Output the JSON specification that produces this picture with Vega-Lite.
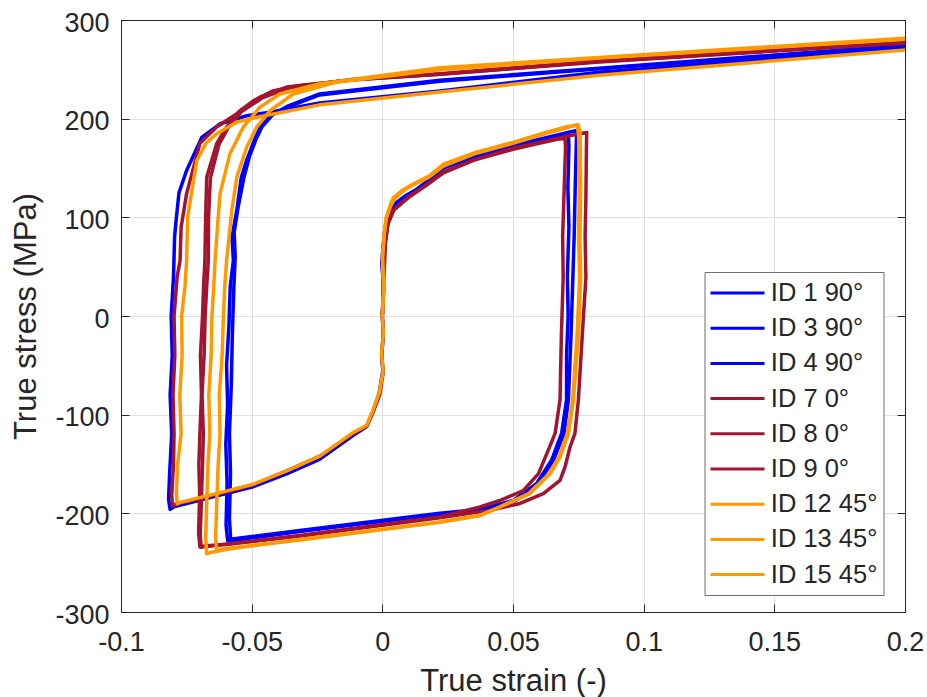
{
"$schema":"https://vega.github.io/schema/vega-lite/v6.json",
"width":784,"height":592,"autosize":"none",
"padding":{"left":121,"top":20,"right":22,"bottom":85},
"background":"white",
"config":{"view":{"stroke":null},"font":"Liberation Sans",
"axis":{"domainColor":"#262626","domainWidth":1,"tickColor":"#262626","tickWidth":1,"tickSize":-8,"labelColor":"#262626","labelFont":"Liberation Sans","labelFontSize":27,"titleFont":"Liberation Sans","titleFontSize":31,"titleColor":"#262626","titleFontWeight":"normal","gridColor":"#DFDFDF","gridWidth":1,"labelFlush":false,"labelOverlap":false}},
"datasets":{"d":[
{"s":"ID 1 90°","x":0,"y":0},{"s":"ID 1 90°","x":0.0004,"y":-20},{"s":"ID 1 90°","x":-0.0003,"y":-40},{"s":"ID 1 90°","x":0.0002,"y":-55},{"s":"ID 1 90°","x":-0.0012,"y":-78},{"s":"ID 1 90°","x":-0.0035,"y":-96},{"s":"ID 1 90°","x":-0.006,"y":-112},{"s":"ID 1 90°","x":-0.0111,"y":-121},{"s":"ID 1 90°","x":-0.0239,"y":-145},{"s":"ID 1 90°","x":-0.0366,"y":-160},{"s":"ID 1 90°","x":-0.0494,"y":-173},{"s":"ID 1 90°","x":-0.0621,"y":-181.5},{"s":"ID 1 90°","x":-0.0749,"y":-190},{"s":"ID 1 90°","x":-0.0795,"y":-193},{"s":"ID 1 90°","x":-0.0812,"y":-196},{"s":"ID 1 90°","x":-0.0818,"y":-186},{"s":"ID 1 90°","x":-0.0814,"y":-160},{"s":"ID 1 90°","x":-0.0806,"y":-120},{"s":"ID 1 90°","x":-0.0812,"y":-80},{"s":"ID 1 90°","x":-0.0804,"y":-40},{"s":"ID 1 90°","x":-0.0808,"y":0},{"s":"ID 1 90°","x":-0.0799,"y":40},{"s":"ID 1 90°","x":-0.0795,"y":80},{"s":"ID 1 90°","x":-0.0788,"y":100},{"s":"ID 1 90°","x":-0.0778,"y":125},{"s":"ID 1 90°","x":-0.0749,"y":147.5},{"s":"ID 1 90°","x":-0.0691,"y":181},{"s":"ID 1 90°","x":-0.0621,"y":194.8},{"s":"ID 1 90°","x":-0.0519,"y":203},{"s":"ID 1 90°","x":-0.043,"y":206.6},{"s":"ID 1 90°","x":-0.024,"y":216},{"s":"ID 1 90°","x":0.022,"y":228},{"s":"ID 1 90°","x":0.083,"y":247},{"s":"ID 1 90°","x":0.2,"y":271.5},

{"s":"ID 3 90°","x":0,"y":0},{"s":"ID 3 90°","x":0.0004,"y":30},{"s":"ID 3 90°","x":-0.0002,"y":55},{"s":"ID 3 90°","x":0.0006,"y":80},{"s":"ID 3 90°","x":0.0015,"y":96},{"s":"ID 3 90°","x":0.0042,"y":112},{"s":"ID 3 90°","x":0.008,"y":120},{"s":"ID 3 90°","x":0.013,"y":128},{"s":"ID 3 90°","x":0.0234,"y":150},{"s":"ID 3 90°","x":0.035,"y":161},{"s":"ID 3 90°","x":0.05,"y":172},{"s":"ID 3 90°","x":0.062,"y":179},{"s":"ID 3 90°","x":0.0695,"y":182},{"s":"ID 3 90°","x":0.0712,"y":183},{"s":"ID 3 90°","x":0.0714,"y":172},{"s":"ID 3 90°","x":0.071,"y":130},{"s":"ID 3 90°","x":0.0714,"y":90},{"s":"ID 3 90°","x":0.0708,"y":40},{"s":"ID 3 90°","x":0.0711,"y":0},{"s":"ID 3 90°","x":0.0705,"y":-40},{"s":"ID 3 90°","x":0.0705,"y":-85},{"s":"ID 3 90°","x":0.0686,"y":-119},{"s":"ID 3 90°","x":0.0648,"y":-146},{"s":"ID 3 90°","x":0.059,"y":-170},{"s":"ID 3 90°","x":0.0501,"y":-187},{"s":"ID 3 90°","x":0.0374,"y":-196},{"s":"ID 3 90°","x":0.022,"y":-200},{"s":"ID 3 90°","x":-0.03,"y":-217},{"s":"ID 3 90°","x":-0.0575,"y":-226},{"s":"ID 3 90°","x":-0.0592,"y":-227.5},{"s":"ID 3 90°","x":-0.0598,"y":-212},{"s":"ID 3 90°","x":-0.0594,"y":-170},{"s":"ID 3 90°","x":-0.0599,"y":-130},{"s":"ID 3 90°","x":-0.0592,"y":-90},{"s":"ID 3 90°","x":-0.0596,"y":-50},{"s":"ID 3 90°","x":-0.0587,"y":-10},{"s":"ID 3 90°","x":-0.0582,"y":30},{"s":"ID 3 90°","x":-0.057,"y":56},{"s":"ID 3 90°","x":-0.0575,"y":80},{"s":"ID 3 90°","x":-0.0557,"y":107},{"s":"ID 3 90°","x":-0.054,"y":140},{"s":"ID 3 90°","x":-0.0519,"y":158},{"s":"ID 3 90°","x":-0.049,"y":178},{"s":"ID 3 90°","x":-0.0468,"y":191},{"s":"ID 3 90°","x":-0.043,"y":203},{"s":"ID 3 90°","x":-0.037,"y":211},{"s":"ID 3 90°","x":-0.024,"y":224},{"s":"ID 3 90°","x":0.022,"y":238},{"s":"ID 3 90°","x":0.083,"y":250.5},{"s":"ID 3 90°","x":0.2,"y":273.5},

{"s":"ID 4 90°","x":0,"y":0},{"s":"ID 4 90°","x":0.0005,"y":28},{"s":"ID 4 90°","x":0,"y":52},{"s":"ID 4 90°","x":0.0008,"y":78},{"s":"ID 4 90°","x":0.0018,"y":97},{"s":"ID 4 90°","x":0.0045,"y":113},{"s":"ID 4 90°","x":0.009,"y":122},{"s":"ID 4 90°","x":0.015,"y":131},{"s":"ID 4 90°","x":0.0234,"y":151},{"s":"ID 4 90°","x":0.036,"y":163},{"s":"ID 4 90°","x":0.05,"y":173},{"s":"ID 4 90°","x":0.063,"y":181},{"s":"ID 4 90°","x":0.071,"y":186},{"s":"ID 4 90°","x":0.0744,"y":188},{"s":"ID 4 90°","x":0.0742,"y":172},{"s":"ID 4 90°","x":0.0738,"y":130},{"s":"ID 4 90°","x":0.0734,"y":80},{"s":"ID 4 90°","x":0.0728,"y":30},{"s":"ID 4 90°","x":0.0722,"y":-20},{"s":"ID 4 90°","x":0.0712,"y":-85},{"s":"ID 4 90°","x":0.0695,"y":-119},{"s":"ID 4 90°","x":0.0655,"y":-146},{"s":"ID 4 90°","x":0.0595,"y":-170},{"s":"ID 4 90°","x":0.051,"y":-187},{"s":"ID 4 90°","x":0.038,"y":-197},{"s":"ID 4 90°","x":0.022,"y":-201},{"s":"ID 4 90°","x":-0.03,"y":-218},{"s":"ID 4 90°","x":-0.056,"y":-227},{"s":"ID 4 90°","x":-0.058,"y":-228.5},{"s":"ID 4 90°","x":-0.0585,"y":-205},{"s":"ID 4 90°","x":-0.0581,"y":-160},{"s":"ID 4 90°","x":-0.0585,"y":-119},{"s":"ID 4 90°","x":-0.0578,"y":-70},{"s":"ID 4 90°","x":-0.0574,"y":-20},{"s":"ID 4 90°","x":-0.0568,"y":30},{"s":"ID 4 90°","x":-0.0563,"y":60},{"s":"ID 4 90°","x":-0.0567,"y":85},{"s":"ID 4 90°","x":-0.0552,"y":110},{"s":"ID 4 90°","x":-0.053,"y":140},{"s":"ID 4 90°","x":-0.0508,"y":162},{"s":"ID 4 90°","x":-0.0485,"y":178},{"s":"ID 4 90°","x":-0.046,"y":192},{"s":"ID 4 90°","x":-0.042,"y":204},{"s":"ID 4 90°","x":-0.036,"y":213},{"s":"ID 4 90°","x":-0.024,"y":225},{"s":"ID 4 90°","x":0.022,"y":239},{"s":"ID 4 90°","x":0.083,"y":251},{"s":"ID 4 90°","x":0.2,"y":274.5},

{"s":"ID 7 0°","x":0,"y":0},{"s":"ID 7 0°","x":0.0003,"y":-18},{"s":"ID 7 0°","x":-0.0002,"y":-38},{"s":"ID 7 0°","x":0.0003,"y":-58},{"s":"ID 7 0°","x":-0.001,"y":-80},{"s":"ID 7 0°","x":-0.0033,"y":-96},{"s":"ID 7 0°","x":-0.0058,"y":-111},{"s":"ID 7 0°","x":-0.011,"y":-119},{"s":"ID 7 0°","x":-0.0239,"y":-142},{"s":"ID 7 0°","x":-0.0366,"y":-157},{"s":"ID 7 0°","x":-0.0494,"y":-171},{"s":"ID 7 0°","x":-0.0621,"y":-180},{"s":"ID 7 0°","x":-0.0745,"y":-188},{"s":"ID 7 0°","x":-0.079,"y":-190.5},{"s":"ID 7 0°","x":-0.0803,"y":-193},{"s":"ID 7 0°","x":-0.0806,"y":-182},{"s":"ID 7 0°","x":-0.0799,"y":-150},{"s":"ID 7 0°","x":-0.0797,"y":-119},{"s":"ID 7 0°","x":-0.0801,"y":-80},{"s":"ID 7 0°","x":-0.0794,"y":-40},{"s":"ID 7 0°","x":-0.0797,"y":0},{"s":"ID 7 0°","x":-0.0785,"y":40},{"s":"ID 7 0°","x":-0.0774,"y":56},{"s":"ID 7 0°","x":-0.077,"y":90},{"s":"ID 7 0°","x":-0.0749,"y":124},{"s":"ID 7 0°","x":-0.0698,"y":175},{"s":"ID 7 0°","x":-0.0634,"y":191.5},{"s":"ID 7 0°","x":-0.0557,"y":205},{"s":"ID 7 0°","x":-0.0494,"y":218},{"s":"ID 7 0°","x":-0.042,"y":228},{"s":"ID 7 0°","x":-0.033,"y":233},{"s":"ID 7 0°","x":-0.011,"y":239.5},{"s":"ID 7 0°","x":0.022,"y":245},{"s":"ID 7 0°","x":0.083,"y":257.5},{"s":"ID 7 0°","x":0.2,"y":276.8},

{"s":"ID 8 0°","x":0,"y":0},{"s":"ID 8 0°","x":0.0003,"y":25},{"s":"ID 8 0°","x":0.0008,"y":50},{"s":"ID 8 0°","x":0.0012,"y":75},{"s":"ID 8 0°","x":0.002,"y":92},{"s":"ID 8 0°","x":0.0042,"y":107},{"s":"ID 8 0°","x":0.01,"y":120},{"s":"ID 8 0°","x":0.016,"y":131},{"s":"ID 8 0°","x":0.0234,"y":145},{"s":"ID 8 0°","x":0.035,"y":158},{"s":"ID 8 0°","x":0.05,"y":169},{"s":"ID 8 0°","x":0.06,"y":175},{"s":"ID 8 0°","x":0.067,"y":179},{"s":"ID 8 0°","x":0.0699,"y":180},{"s":"ID 8 0°","x":0.0701,"y":172},{"s":"ID 8 0°","x":0.0696,"y":130},{"s":"ID 8 0°","x":0.069,"y":80},{"s":"ID 8 0°","x":0.0692,"y":39},{"s":"ID 8 0°","x":0.0685,"y":-20},{"s":"ID 8 0°","x":0.068,"y":-85},{"s":"ID 8 0°","x":0.0661,"y":-119},{"s":"ID 8 0°","x":0.0635,"y":-136},{"s":"ID 8 0°","x":0.0597,"y":-160},{"s":"ID 8 0°","x":0.0539,"y":-177},{"s":"ID 8 0°","x":0.045,"y":-187},{"s":"ID 8 0°","x":0.0374,"y":-193.6},{"s":"ID 8 0°","x":0.022,"y":-203.7},{"s":"ID 8 0°","x":-0.03,"y":-222},{"s":"ID 8 0°","x":-0.058,"y":-230.7},{"s":"ID 8 0°","x":-0.068,"y":-233},{"s":"ID 8 0°","x":-0.0698,"y":-234},{"s":"ID 8 0°","x":-0.0703,"y":-220},{"s":"ID 8 0°","x":-0.0699,"y":-180},{"s":"ID 8 0°","x":-0.0702,"y":-150},{"s":"ID 8 0°","x":-0.0698,"y":-119},{"s":"ID 8 0°","x":-0.0692,"y":-80},{"s":"ID 8 0°","x":-0.0696,"y":-40},{"s":"ID 8 0°","x":-0.0688,"y":0},{"s":"ID 8 0°","x":-0.0684,"y":30},{"s":"ID 8 0°","x":-0.0679,"y":56},{"s":"ID 8 0°","x":-0.0676,"y":100},{"s":"ID 8 0°","x":-0.0672,"y":140.7},{"s":"ID 8 0°","x":-0.0634,"y":174.6},{"s":"ID 8 0°","x":-0.0596,"y":191.4},{"s":"ID 8 0°","x":-0.0545,"y":208},{"s":"ID 8 0°","x":-0.0468,"y":221.8},{"s":"ID 8 0°","x":-0.0366,"y":232},{"s":"ID 8 0°","x":-0.011,"y":239.5},{"s":"ID 8 0°","x":0.022,"y":245},{"s":"ID 8 0°","x":0.083,"y":258},{"s":"ID 8 0°","x":0.2,"y":277.3},

{"s":"ID 9 0°","x":0,"y":0},{"s":"ID 9 0°","x":0.0005,"y":28},{"s":"ID 9 0°","x":0.0001,"y":50},{"s":"ID 9 0°","x":0.001,"y":72},{"s":"ID 9 0°","x":0.0022,"y":94},{"s":"ID 9 0°","x":0.0045,"y":108},{"s":"ID 9 0°","x":0.01,"y":121},{"s":"ID 9 0°","x":0.017,"y":133},{"s":"ID 9 0°","x":0.0234,"y":146},{"s":"ID 9 0°","x":0.036,"y":159},{"s":"ID 9 0°","x":0.05,"y":170},{"s":"ID 9 0°","x":0.062,"y":177},{"s":"ID 9 0°","x":0.072,"y":183},{"s":"ID 9 0°","x":0.0782,"y":186},{"s":"ID 9 0°","x":0.0781,"y":172},{"s":"ID 9 0°","x":0.0779,"y":120},{"s":"ID 9 0°","x":0.0776,"y":80},{"s":"ID 9 0°","x":0.0779,"y":39},{"s":"ID 9 0°","x":0.0765,"y":-20},{"s":"ID 9 0°","x":0.075,"y":-85.5},{"s":"ID 9 0°","x":0.0737,"y":-119},{"s":"ID 9 0°","x":0.0718,"y":-133},{"s":"ID 9 0°","x":0.0699,"y":-153},{"s":"ID 9 0°","x":0.068,"y":-166.6},{"s":"ID 9 0°","x":0.0616,"y":-180},{"s":"ID 9 0°","x":0.0527,"y":-190},{"s":"ID 9 0°","x":0.0412,"y":-197},{"s":"ID 9 0°","x":0.022,"y":-204.5},{"s":"ID 9 0°","x":-0.03,"y":-222.5},{"s":"ID 9 0°","x":-0.058,"y":-231},{"s":"ID 9 0°","x":-0.0675,"y":-233.5},{"s":"ID 9 0°","x":-0.0693,"y":-234.5},{"s":"ID 9 0°","x":-0.0697,"y":-222},{"s":"ID 9 0°","x":-0.0692,"y":-185},{"s":"ID 9 0°","x":-0.0688,"y":-150},{"s":"ID 9 0°","x":-0.0685,"y":-119},{"s":"ID 9 0°","x":-0.069,"y":-80},{"s":"ID 9 0°","x":-0.0682,"y":-40},{"s":"ID 9 0°","x":-0.0678,"y":0},{"s":"ID 9 0°","x":-0.0672,"y":30},{"s":"ID 9 0°","x":-0.0666,"y":56},{"s":"ID 9 0°","x":-0.0665,"y":100},{"s":"ID 9 0°","x":-0.0658,"y":140},{"s":"ID 9 0°","x":-0.0625,"y":174},{"s":"ID 9 0°","x":-0.059,"y":191},{"s":"ID 9 0°","x":-0.054,"y":207},{"s":"ID 9 0°","x":-0.046,"y":221},{"s":"ID 9 0°","x":-0.036,"y":231},{"s":"ID 9 0°","x":-0.011,"y":240},{"s":"ID 9 0°","x":0.022,"y":245.5},{"s":"ID 9 0°","x":0.083,"y":258.5},{"s":"ID 9 0°","x":0.2,"y":276.8},

{"s":"ID 12 45°","x":0,"y":0},{"s":"ID 12 45°","x":0.0004,"y":-18},{"s":"ID 12 45°","x":-0.0003,"y":-38},{"s":"ID 12 45°","x":0.0003,"y":-56},{"s":"ID 12 45°","x":-0.0012,"y":-78},{"s":"ID 12 45°","x":-0.0035,"y":-95},{"s":"ID 12 45°","x":-0.006,"y":-111},{"s":"ID 12 45°","x":-0.0111,"y":-118},{"s":"ID 12 45°","x":-0.0239,"y":-142},{"s":"ID 12 45°","x":-0.0366,"y":-157},{"s":"ID 12 45°","x":-0.0494,"y":-170.5},{"s":"ID 12 45°","x":-0.0621,"y":-179},{"s":"ID 12 45°","x":-0.0735,"y":-186.5},{"s":"ID 12 45°","x":-0.0775,"y":-189},{"s":"ID 12 45°","x":-0.0785,"y":-190.5},{"s":"ID 12 45°","x":-0.0788,"y":-178},{"s":"ID 12 45°","x":-0.0783,"y":-150},{"s":"ID 12 45°","x":-0.077,"y":-119},{"s":"ID 12 45°","x":-0.0775,"y":-80},{"s":"ID 12 45°","x":-0.0766,"y":-40},{"s":"ID 12 45°","x":-0.0768,"y":0},{"s":"ID 12 45°","x":-0.0755,"y":30},{"s":"ID 12 45°","x":-0.0749,"y":56},{"s":"ID 12 45°","x":-0.0745,"y":100},{"s":"ID 12 45°","x":-0.071,"y":157.6},{"s":"ID 12 45°","x":-0.0675,"y":175},{"s":"ID 12 45°","x":-0.0634,"y":184.7},{"s":"ID 12 45°","x":-0.0557,"y":196.5},{"s":"ID 12 45°","x":-0.047,"y":202},{"s":"ID 12 45°","x":-0.024,"y":214},{"s":"ID 12 45°","x":0.022,"y":227},{"s":"ID 12 45°","x":0.083,"y":244},{"s":"ID 12 45°","x":0.2,"y":269.5},

{"s":"ID 13 45°","x":0,"y":0},{"s":"ID 13 45°","x":0.0006,"y":30},{"s":"ID 13 45°","x":0.0001,"y":60},{"s":"ID 13 45°","x":0.0008,"y":85},{"s":"ID 13 45°","x":0.0015,"y":100},{"s":"ID 13 45°","x":0.003,"y":112},{"s":"ID 13 45°","x":0.0042,"y":120},{"s":"ID 13 45°","x":0.008,"y":128},{"s":"ID 13 45°","x":0.012,"y":134},{"s":"ID 13 45°","x":0.018,"y":142},{"s":"ID 13 45°","x":0.0234,"y":154},{"s":"ID 13 45°","x":0.036,"y":166},{"s":"ID 13 45°","x":0.05,"y":176},{"s":"ID 13 45°","x":0.0625,"y":186},{"s":"ID 13 45°","x":0.071,"y":192},{"s":"ID 13 45°","x":0.075,"y":193.5},{"s":"ID 13 45°","x":0.0757,"y":185},{"s":"ID 13 45°","x":0.0759,"y":130},{"s":"ID 13 45°","x":0.0756,"y":80},{"s":"ID 13 45°","x":0.0759,"y":39},{"s":"ID 13 45°","x":0.075,"y":-20},{"s":"ID 13 45°","x":0.0731,"y":-85.5},{"s":"ID 13 45°","x":0.0712,"y":-119},{"s":"ID 13 45°","x":0.068,"y":-143},{"s":"ID 13 45°","x":0.0642,"y":-160},{"s":"ID 13 45°","x":0.0565,"y":-180},{"s":"ID 13 45°","x":0.045,"y":-193.6},{"s":"ID 13 45°","x":0.0374,"y":-202},{"s":"ID 13 45°","x":0.022,"y":-208.8},{"s":"ID 13 45°","x":-0.03,"y":-226},{"s":"ID 13 45°","x":-0.058,"y":-235.8},{"s":"ID 13 45°","x":-0.0655,"y":-239.5},{"s":"ID 13 45°","x":-0.0672,"y":-241},{"s":"ID 13 45°","x":-0.0676,"y":-226},{"s":"ID 13 45°","x":-0.0672,"y":-190},{"s":"ID 13 45°","x":-0.0667,"y":-150},{"s":"ID 13 45°","x":-0.066,"y":-119},{"s":"ID 13 45°","x":-0.0664,"y":-80},{"s":"ID 13 45°","x":-0.0655,"y":-40},{"s":"ID 13 45°","x":-0.0652,"y":0},{"s":"ID 13 45°","x":-0.0645,"y":30},{"s":"ID 13 45°","x":-0.064,"y":56},{"s":"ID 13 45°","x":-0.0628,"y":100},{"s":"ID 13 45°","x":-0.0621,"y":124},{"s":"ID 13 45°","x":-0.0583,"y":164.5},{"s":"ID 13 45°","x":-0.0532,"y":191.4},{"s":"ID 13 45°","x":-0.0468,"y":211.7},{"s":"ID 13 45°","x":-0.0392,"y":225},{"s":"ID 13 45°","x":-0.0239,"y":235.4},{"s":"ID 13 45°","x":0.0221,"y":251.6},{"s":"ID 13 45°","x":0.083,"y":262},{"s":"ID 13 45°","x":0.2,"y":281.5},

{"s":"ID 15 45°","x":0,"y":0},{"s":"ID 15 45°","x":0.0005,"y":28},{"s":"ID 15 45°","x":0,"y":58},{"s":"ID 15 45°","x":0.0007,"y":82},{"s":"ID 15 45°","x":0.0014,"y":98},{"s":"ID 15 45°","x":0.003,"y":110},{"s":"ID 15 45°","x":0.0045,"y":118},{"s":"ID 15 45°","x":0.008,"y":127},{"s":"ID 15 45°","x":0.012,"y":133},{"s":"ID 15 45°","x":0.018,"y":141},{"s":"ID 15 45°","x":0.0234,"y":152},{"s":"ID 15 45°","x":0.036,"y":165},{"s":"ID 15 45°","x":0.05,"y":175},{"s":"ID 15 45°","x":0.0625,"y":185},{"s":"ID 15 45°","x":0.071,"y":191},{"s":"ID 15 45°","x":0.0745,"y":194},{"s":"ID 15 45°","x":0.0751,"y":184},{"s":"ID 15 45°","x":0.0754,"y":130},{"s":"ID 15 45°","x":0.0751,"y":80},{"s":"ID 15 45°","x":0.0755,"y":39},{"s":"ID 15 45°","x":0.0745,"y":-20},{"s":"ID 15 45°","x":0.0728,"y":-85.5},{"s":"ID 15 45°","x":0.0708,"y":-119},{"s":"ID 15 45°","x":0.0676,"y":-143},{"s":"ID 15 45°","x":0.0638,"y":-160},{"s":"ID 15 45°","x":0.056,"y":-180},{"s":"ID 15 45°","x":0.0445,"y":-194},{"s":"ID 15 45°","x":0.037,"y":-202.5},{"s":"ID 15 45°","x":0.022,"y":-209},{"s":"ID 15 45°","x":-0.03,"y":-226.5},{"s":"ID 15 45°","x":-0.058,"y":-235},{"s":"ID 15 45°","x":-0.0618,"y":-236.5},{"s":"ID 15 45°","x":-0.0634,"y":-237.5},{"s":"ID 15 45°","x":-0.0638,"y":-224},{"s":"ID 15 45°","x":-0.0633,"y":-185},{"s":"ID 15 45°","x":-0.0628,"y":-150},{"s":"ID 15 45°","x":-0.0621,"y":-119},{"s":"ID 15 45°","x":-0.0624,"y":-80},{"s":"ID 15 45°","x":-0.0613,"y":-40},{"s":"ID 15 45°","x":-0.0608,"y":0},{"s":"ID 15 45°","x":-0.0603,"y":30},{"s":"ID 15 45°","x":-0.0596,"y":56},{"s":"ID 15 45°","x":-0.0576,"y":107},{"s":"ID 15 45°","x":-0.0557,"y":140.7},{"s":"ID 15 45°","x":-0.0519,"y":171},{"s":"ID 15 45°","x":-0.0481,"y":191.4},{"s":"ID 15 45°","x":-0.043,"y":208},{"s":"ID 15 45°","x":-0.0341,"y":225},{"s":"ID 15 45°","x":-0.0175,"y":237},{"s":"ID 15 45°","x":0.0221,"y":249.5},{"s":"ID 15 45°","x":0.083,"y":261.5},{"s":"ID 15 45°","x":0.2,"y":280.5}
]},
"data":{"name":"d"},
"layer":[
{"mark":{"type":"line","strokeWidth":3.5,"strokeJoin":"round","strokeCap":"round","clip":true},
"encoding":{
"x":{"field":"x","type":"quantitative","scale":{"domain":[-0.1,0.2],"nice":false,"zero":false},
"axis":{"orient":"bottom","values":[-0.1,-0.05,0,0.05,0.1,0.15,0.2],"labelExpr":"toString(datum.value)","labelPadding":25.5,"grid":true,"title":"True strain (-)","titleX":392,"titleY":78,"titleBaseline":"alphabetic"}},
"y":{"field":"y","type":"quantitative","scale":{"domain":[-300,300],"nice":false,"zero":false},
"axis":{"orient":"left","values":[-300,-200,-100,0,100,200,300],"labelExpr":"toString(datum.value)","labelPadding":20,"labelOffset":3,"grid":true,"title":"True stress (MPa)","titleX":-86,"titleY":296,"titleBaseline":"alphabetic","titleAngle":270}},
"color":{"field":"s","type":"nominal",
"scale":{"domain":["ID 1 90°","ID 3 90°","ID 4 90°","ID 7 0°","ID 8 0°","ID 9 0°","ID 12 45°","ID 13 45°","ID 15 45°"],
"range":["#0000FF","#0000FF","#0000FF","#A2142F","#A2142F","#A2142F","#FF9900","#FF9900","#FF9900"]},
"legend":{"title":null,"orient":"none","legendX":583.5,"legendY":252,"symbolType":"M-2,0H2","symbolSize":729,"symbolStrokeWidth":3,"symbolOffset":12,"labelOffset":18.3,"rowPadding":6.2,"padding":6,"strokeColor":"#6e6e6e","fillColor":"white","labelFontSize":25.5,"labelColor":"#262626","labelFont":"Liberation Sans","labelLimit":300}},
"order":{"value":null}}},
{"mark":{"type":"line","opacity":0},
"encoding":{
"x":{"field":"x","type":"quantitative","axis":{"orient":"top","values":[-0.1,-0.05,0,0.05,0.1,0.15,0.2],"labels":false,"grid":false,"title":null}},
"y":{"field":"y","type":"quantitative","axis":{"orient":"right","values":[-300,-200,-100,0,100,200,300],"labels":false,"grid":false,"title":null}},
"order":{"value":null}}}
],
"resolve":{"axis":{"x":"independent","y":"independent"}}
}
